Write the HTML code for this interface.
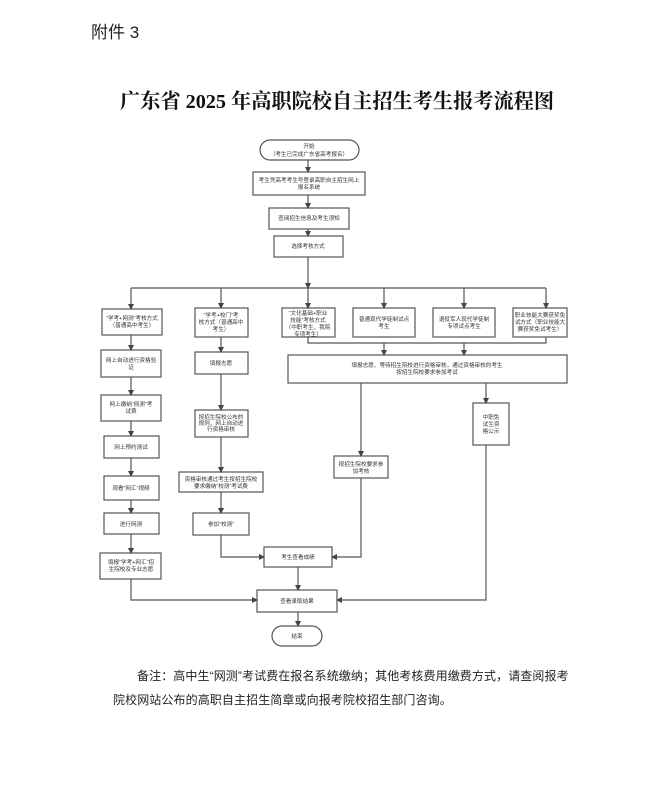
<!DOCTYPE html>
<html><head><meta charset="utf-8"><style>
html,body{margin:0;padding:0;background:#fff;}
body{width:662px;height:799px;overflow:hidden;position:relative;font-family:"Liberation Sans","Noto Sans CJK SC",sans-serif;}
.t{position:absolute;white-space:nowrap;color:#222;}
</style></head><body>
<div class="t" style="left:91px;top:18px;font-size:17px;">附件 3</div>
<div class="t" style="left:120px;top:85px;font-size:20.2px;font-weight:bold;font-family:'Liberation Serif','Noto Serif CJK SC',serif;color:#111;">广东省 2025 年高职院校自主招生考生报考流程图</div>
<div class="t" style="left:137px;top:667px;font-size:12px;letter-spacing:0.1px;">备注：高中生“网测”考试费在报名系统缴纳；其他考核费用缴费方式，请查阅报考</div>
<div class="t" style="left:113px;top:691px;font-size:12px;letter-spacing:0.1px;">院校网站公布的高职自主招生简章或向报考院校招生部门咨询。</div>
<svg width="662" height="799" style="position:absolute;left:0;top:0" xmlns="http://www.w3.org/2000/svg">
<defs><marker id="a" markerWidth="6" markerHeight="6" refX="5" refY="3" orient="auto" markerUnits="userSpaceOnUse"><path d="M0,0 L6,3 L0,6 z" fill="#444"/></marker></defs>
<g fill="none" stroke="#555" stroke-width="1.2">
<rect x="260" y="140" width="99" height="20" rx="10"/>
<rect x="253" y="172" width="112" height="23"/>
<rect x="269" y="208" width="80" height="21"/>
<rect x="274" y="236" width="69" height="21"/>
<rect x="102" y="309" width="60" height="26"/>
<rect x="195" y="308" width="53" height="29"/>
<rect x="282" y="308" width="53" height="29"/>
<rect x="353" y="308" width="62" height="29"/>
<rect x="433" y="308" width="62" height="29"/>
<rect x="513" y="308" width="54" height="29"/>
<rect x="288" y="355" width="279" height="28"/>
<rect x="334" y="456" width="54" height="22"/>
<rect x="473" y="403" width="36" height="42"/>
<rect x="101" y="350" width="60" height="27"/>
<rect x="101" y="395" width="60" height="26"/>
<rect x="104" y="436" width="55" height="22"/>
<rect x="104" y="476" width="55" height="24"/>
<rect x="104" y="513" width="55" height="21"/>
<rect x="100" y="553" width="61" height="26"/>
<rect x="195" y="352" width="53" height="22"/>
<rect x="195" y="410" width="53" height="27"/>
<rect x="179" y="472" width="84" height="20"/>
<rect x="193" y="513" width="56" height="22"/>
<rect x="264" y="547" width="68" height="20"/>
<rect x="257" y="590" width="80" height="22"/>
<rect x="272" y="626" width="50" height="20" rx="10"/>
</g>
<g fill="none" stroke="#555" stroke-width="1.2" marker-end="url(#a)">
<path d="M308 160 V172"/><path d="M308 195 V208"/><path d="M308 229 V236"/>
<path d="M308 257 V288"/>
<path d="M131 288 V309"/><path d="M221 288 V308"/><path d="M308 288 V308"/><path d="M384 288 V308"/><path d="M464 288 V308"/><path d="M546 288 V308"/>
<path d="M384 343 V355"/><path d="M464 343 V355"/>
<path d="M361 383 V456"/><path d="M486 383 V403"/>
<path d="M131 335 V350"/><path d="M131 377 V395"/><path d="M131 421 V436"/><path d="M131 458 V476"/><path d="M131 500 V513"/><path d="M131 534 V553"/>
<path d="M221 337 V352"/><path d="M221 374 V410"/><path d="M221 437 V472"/><path d="M221 492 V513"/>
<path d="M221 535 V557 H264"/><path d="M361 478 V557 H332"/>
<path d="M298 567 V590"/>
<path d="M131 579 V600 H257"/><path d="M486 445 V600 H337"/>
<path d="M298 612 V626"/>
</g>
<g fill="none" stroke="#555" stroke-width="1.2">
<path d="M131 288 H546"/><path d="M308 337 V343 H546 V337"/>
</g>
<g font-size="5.6" fill="#333" text-anchor="middle" font-family="'Liberation Sans','Noto Sans CJK SC',sans-serif">
<text x="309" y="148">开始</text><text x="309" y="156">（考生已完成广东省高考报名）</text>
<text x="309" y="182">考生凭高考考生号登录高职自主招生网上</text><text x="309" y="189">报名系统</text>
<text x="309" y="220">查阅招生信息及考生须知</text>
<text x="308" y="248">选择考核方式</text>
<text x="132" y="320">“学考+网测”考核方式</text><text x="132" y="327">（普通高中考生）</text>
<text x="221" y="317">“学考+校门”考</text><text x="221" y="324">核方式（普通高中</text><text x="221" y="331">考生）</text>
<text x="308" y="315">“文化基础+职业</text><text x="308" y="322">技能”考核方式</text><text x="308" y="329">（中职考生、我院</text><text x="308" y="336">专项考生）</text>
<text x="384" y="321">普通现代学徒制试点</text><text x="384" y="328">考生</text>
<text x="464" y="321">退役军人现代学徒制</text><text x="464" y="328">专项试点考生</text>
<text x="540" y="317">职业技能大赛获奖免</text><text x="540" y="324">试方式（职业技能大</text><text x="540" y="331">赛获奖免试考生）</text>
<text x="427" y="367">填报志愿、等待招生院校进行资格审核，通过资格审核的考生</text><text x="427" y="374">按招生院校要求参加考试</text>
<text x="361" y="466">按招生院校要求参</text><text x="361" y="473">加考核</text>
<text x="491" y="419">中职免</text><text x="491" y="426">试生资</text><text x="491" y="433">格公示</text>
<text x="131" y="362">网上自动进行资格验</text><text x="131" y="369">证</text>
<text x="131" y="406">网上缴纳“网测”考</text><text x="131" y="413">试费</text>
<text x="131" y="449">网上预约测试</text>
<text x="131" y="490">观看“网汇”视频</text>
<text x="131" y="526">进行网测</text>
<text x="131" y="564">填报“学考+网汇”招</text><text x="131" y="571">生院校及专业志愿</text>
<text x="221" y="365">填报志愿</text>
<text x="221" y="419">按招生院校公布的</text><text x="221" y="425">规则，网上自动进</text><text x="221" y="431">行资格审核</text>
<text x="221" y="481">资格审核通过考生按招生院校</text><text x="221" y="488">要求缴纳“校测”考试费</text>
<text x="221" y="526">参加“校测”</text>
<text x="298" y="559">考生查看成绩</text>
<text x="297" y="603">查看录取结果</text>
<text x="297" y="638">结束</text>
</g>
</svg>
</body></html>
